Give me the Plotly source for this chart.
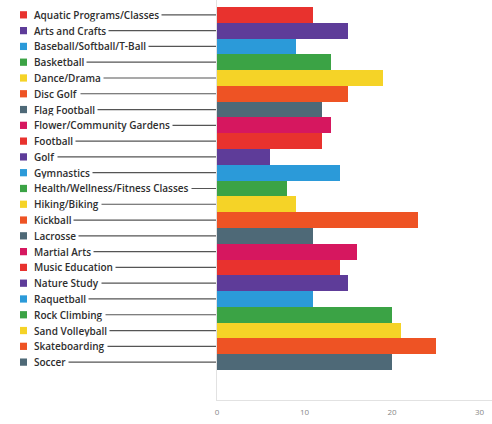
import plotly.graph_objects as go

categories = [
    "Aquatic Programs/Classes", "Arts and Crafts", "Baseball/Softball/T-Ball",
    "Basketball", "Dance/Drama", "Disc Golf", "Flag Football",
    "Flower/Community Gardens", "Football", "Golf", "Gymnastics",
    "Health/Wellness/Fitness Classes", "Hiking/Biking", "Kickball", "Lacrosse",
    "Martial Arts", "Music Education", "Nature Study", "Raquetball",
    "Rock Climbing", "Sand Volleyball", "Skateboarding", "Soccer",
]
values = [11, 15, 9, 13, 19, 15, 12, 13, 12, 6, 14, 8, 9, 23, 11, 16, 14, 15, 11, 20, 21, 25, 20]
palette = ["#E8322E", "#5E3C99", "#2B9AD9", "#3BA345", "#F5D327", "#EE5324", "#4E6977", "#D6175F"]
colors = [palette[i % len(palette)] for i in range(len(categories))]
x_ticks = [0, 10, 20, 30]

W, H = 492, 424
L, R, T, B = 217, 0, 0, 24
pw = W - L - R

def px2paper(px):
    return (px - L) / pw

fig = go.Figure()
fig.add_trace(go.Bar(
    x=values, y=categories, orientation="h",
    marker=dict(color=colors, line=dict(width=0)),
    hoverinfo="x+y", showlegend=False,
))

shapes = []
annotations = []
for i, (cat, col) in enumerate(zip(categories, colors)):
    shapes.append(dict(type="line", xref="paper", yref="y",
                       x0=px2paper(40), x1=0, y0=i, y1=i,
                       line=dict(color="#555555", width=1.2), layer="below"))
    shapes.append(dict(type="rect", xref="paper", yref="y",
                       x0=px2paper(20), x1=px2paper(27), y0=i - 0.23, y1=i + 0.23,
                       fillcolor=col, line=dict(width=0), layer="above"))
    annotations.append(dict(text=cat, xref="paper", yref="y",
                            x=px2paper(31), y=i, xanchor="left", yanchor="middle",
                            showarrow=False, bgcolor="white", borderpad=2,
                            font=dict(family="Open Sans", size=10, color="#2e2e2e",
                                      weight=600)))

fig.update_layout(
    width=W, height=H,
    margin=dict(l=L, r=R, t=T, b=B, pad=0, autoexpand=False),
    paper_bgcolor="white", plot_bgcolor="white",
    bargap=0,
    shapes=shapes, annotations=annotations,
    xaxis=dict(range=[0, pw / 8.75], tickvals=x_ticks, showgrid=False, zeroline=False,
               showline=True, linecolor="#e2e2e2", linewidth=1, automargin=False,
               ticks="outside", ticklen=4, tickcolor="rgba(0,0,0,0)",
               tickfont=dict(family="Open Sans", size=8, color="#888888")),
    yaxis=dict(categoryorder="array", categoryarray=categories, automargin=False,
               range=[24.4, -0.94], showticklabels=False, showgrid=False,
               zeroline=False, showline=True, linecolor="#e2e2e2", linewidth=1,
               ticks=""),
)

fig.write_html("out.html", config={"displayModeBar": False},
               post_script="document.body.style.margin='0';document.body.style.padding='0';")
